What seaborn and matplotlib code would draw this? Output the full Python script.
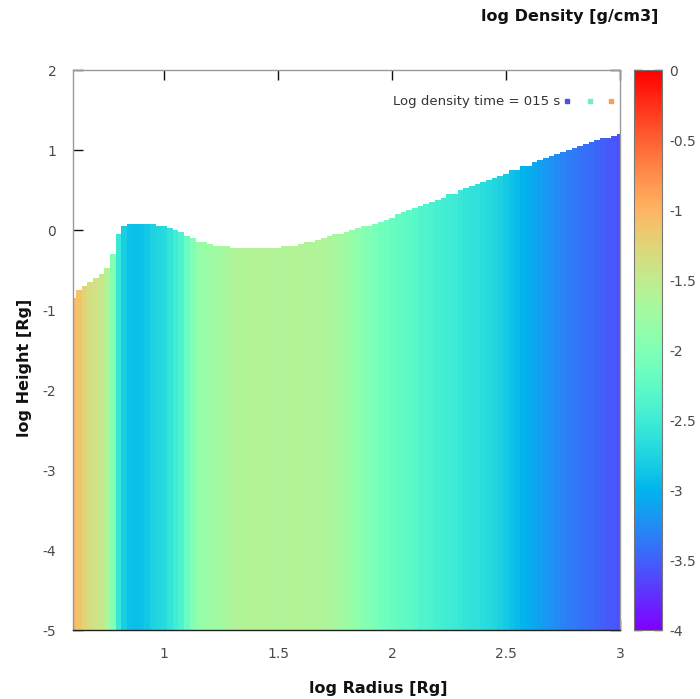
import numpy as np
import pandas as pd
import matplotlib
matplotlib.use("Agg")
import matplotlib.pyplot as plt
import seaborn as sns

# Sampling grid of the simulation output (log radius columns, log height rows)
RADIUS_START, RADIUS_STEP = 0.6, 0.025
HEIGHT_TOP, HEIGHT_BOTTOM, HEIGHT_STEP = 2.0, -5.0, 0.025

# Log density [g/cm3] in each radius column
log_density = [
    -1.02, -1.10, -1.25, -1.35, -1.40, -1.45, -1.60, -2.00, -2.55, -2.80,
    -2.90, -2.92, -2.90, -2.85, -2.78, -2.75, -2.70, -2.58, -2.50, -2.40,
    -2.20, -2.00, -1.85, -1.80, -1.78, -1.76, -1.72, -1.68, -1.64, -1.62,
    -1.61, -1.60, -1.60, -1.60, -1.60, -1.61, -1.62, -1.62, -1.61, -1.60,
    -1.60, -1.61, -1.62, -1.63, -1.64, -1.66, -1.68, -1.72, -1.78, -1.84,
    -1.90, -1.95, -2.00, -2.05, -2.10, -2.14, -2.18, -2.21, -2.24, -2.28,
    -2.31, -2.35, -2.38, -2.42, -2.45, -2.48, -2.50, -2.52, -2.55, -2.58,
    -2.61, -2.64, -2.67, -2.70, -2.73, -2.78, -2.84, -2.90, -2.95, -3.00,
    -3.04, -3.08, -3.13, -3.18, -3.22, -3.26, -3.30, -3.34, -3.37, -3.40,
    -3.42, -3.45, -3.48, -3.51, -3.54, -3.56, -3.58,
]

# Log height of the disc surface in each radius column
log_surface = [
    -0.84, -0.76, -0.70, -0.64, -0.59, -0.54, -0.47, -0.30, -0.05, 0.05,
    0.08, 0.08, 0.08, 0.08, 0.07, 0.06, 0.05, 0.03, 0.01, -0.03,
    -0.07, -0.10, -0.14, -0.16, -0.17, -0.19, -0.20, -0.21, -0.22, -0.22,
    -0.23, -0.23, -0.23, -0.23, -0.23, -0.23, -0.22, -0.21, -0.20, -0.19,
    -0.18, -0.16, -0.14, -0.12, -0.10, -0.08, -0.06, -0.04, -0.02, 0.00,
    0.02, 0.04, 0.06, 0.08, 0.10, 0.13, 0.16, 0.19, 0.22, 0.25,
    0.28, 0.30, 0.33, 0.36, 0.38, 0.41, 0.44, 0.46, 0.49, 0.52,
    0.55, 0.57, 0.60, 0.63, 0.66, 0.68, 0.71, 0.74, 0.76, 0.79,
    0.81, 0.84, 0.87, 0.89, 0.92, 0.95, 0.97, 1.00, 1.02, 1.05,
    1.07, 1.10, 1.12, 1.14, 1.16, 1.18, 1.20,
]

x_ticks = [1, 1.5, 2, 2.5, 3]
y_ticks = [-5, -4, -3, -2, -1, 0, 1, 2]
cbar_ticks = [-4, -3.5, -3, -2.5, -2, -1.5, -1, -0.5, 0]
key_colors = ["#4f4fe0", "#74ecc8", "#f3a25e"]

sns.set_theme(style="white")
plt.rcParams["font.family"] = ["DejaVu Sans"]
plt.rcParams["axes.unicode_minus"] = False

n_cols = len(log_density)
radius = RADIUS_START + RADIUS_STEP * np.arange(n_cols)
n_rows = int(round((HEIGHT_TOP - HEIGHT_BOTTOM) / HEIGHT_STEP))
height = HEIGHT_TOP - HEIGHT_STEP * (np.arange(n_rows) + 0.5)

field = pd.DataFrame(
    np.tile(np.asarray(log_density), (n_rows, 1)),
    index=np.round(height, 4), columns=np.round(radius, 3),
)
mask = height[:, None] > np.asarray(log_surface)[None, :]

fig = plt.figure(figsize=(7.0, 6.99), dpi=100)
ax = fig.add_axes([73 / 700, 1 - 630 / 699, 547 / 700, 560 / 699])
cax = fig.add_axes([634 / 700, 1 - 630 / 699, 28 / 700, 560 / 699])

sns.heatmap(field, mask=mask, cmap="rainbow", vmin=-4, vmax=0,
            ax=ax, cbar_ax=cax, xticklabels=False, yticklabels=False)


def x_pos(r):
    return (r - RADIUS_START) / RADIUS_STEP + 0.5


def y_pos(h):
    return (HEIGHT_TOP - h) / HEIGHT_STEP


ax.set_xlim(x_pos(RADIUS_START), x_pos(radius[-1]))
ax.set_ylim(y_pos(HEIGHT_BOTTOM), y_pos(HEIGHT_TOP))
ax.set_xticks([x_pos(v) for v in x_ticks])
ax.set_xticklabels([f"{v:g}" for v in x_ticks])
ax.set_yticks([y_pos(v) for v in y_ticks])
ax.set_yticklabels([f"{v:g}" for v in y_ticks])
ax.set_xlabel("")
ax.set_ylabel("")
ax.tick_params(axis="both", direction="in", length=7, width=1, color="#111",
               labelsize=10, labelcolor="#4a4a4a", top=True, right=True,
               bottom=True, left=True)
ax.tick_params(axis="x", pad=12)
ax.tick_params(axis="y", pad=12)
for side, spine in ax.spines.items():
    spine.set_visible(True)
    spine.set_linewidth(1.0)
    spine.set_edgecolor("#222" if side == "bottom" else "#999")

cb = ax.collections[0].colorbar
cb.outline.set_linewidth(0.8)
cb.outline.set_edgecolor("#777")
cb.set_ticks(cbar_ticks)
cb.set_ticklabels([f"{v:g}" for v in cbar_ticks])
cax.tick_params(direction="in", length=6, width=1, color="#333",
                left=True, right=True, labelleft=False, labelright=True,
                labelsize=10, labelcolor="#4a4a4a", pad=5)

# Key in the upper right of the plot
fig.text(560 / 700, 1 - 101 / 699, "Log density time = 015 s",
         ha="right", va="center", fontsize=9.5, color="#333")
for px, col in zip([567, 590, 611], key_colors):
    fig.add_artist(plt.Line2D([px / 700], [1 - 101 / 699], marker="s",
                              markersize=2.2, color=col, linestyle="none"))

fig.text(378 / 700, 1 - 688 / 699, "log Radius [Rg]", ha="center",
         va="center", fontsize=11.5, fontweight="bold", color="#111")
fig.text(25 / 700, 1 - 368 / 699, "log Height [Rg]", ha="center",
         va="center", rotation=90, fontsize=11.5, fontweight="bold", color="#111")
fig.text(570 / 700, 1 - 17 / 699, "log Density [g/cm3]", ha="center",
         va="center", fontsize=11.5, fontweight="bold", color="#111")

fig.savefig("out.png", dpi=100, facecolor="white")
